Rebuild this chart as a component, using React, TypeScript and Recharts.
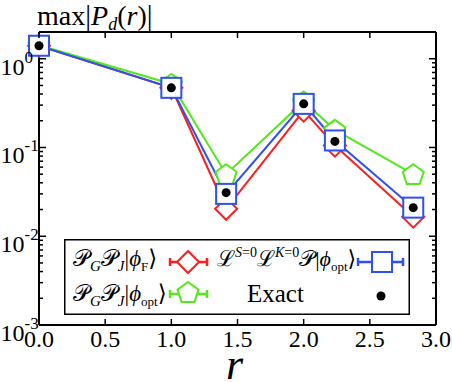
import { LineChart, Line, XAxis, YAxis } from 'recharts'

// distances r and max|P_d(r)|
const rValues = [0, 1, 1.414, 2, 2.236, 2.828]
const fermiValues = [1.4, 0.47, 0.0204, 0.26, 0.105, 0.0166]
const optValues = [1.42, 0.52, 0.05, 0.33, 0.158, 0.05]
const projValues = [1.4, 0.47, 0.03, 0.31, 0.12, 0.021]
const exactValues = [1.4, 0.47, 0.031, 0.31, 0.117, 0.021]

const xTicks = [0, 0.5, 1, 1.5, 2, 2.5, 3]
const xTickLabels = ['0.0', '0.5', '1.0', '1.5', '2.0', '2.5', '3.0']
const majorYTicks = [0.001, 0.01, 0.1, 1]
const minorMultipliers = [2, 3, 4, 5, 6, 7, 8, 9]

const RED = '#ff1e1e'
const GREEN = '#55e81a'
const BLUE = '#2f50f5'
const FONT = '"Liberation Serif", "DejaVu Serif", serif'

const yTicks = [
  ...majorYTicks,
  ...majorYTicks.flatMap(m => minorMultipliers.map(k => k * m)).filter(v => v <= 2),
].sort((a, b) => a - b)

const data = rValues.map((r, i) => ({
  r,
  fermi: fermiValues[i],
  opt: optValues[i],
  proj: projValues[i],
  exact: exactValues[i],
}))

const isMajor = (v: number) => majorYTicks.some(m => Math.abs(m - v) < m * 1e-6)

function Diamond({ cx, cy }: { cx: number; cy: number }) {
  const s = 11
  return (
    <polygon
      points={`${cx},${cy - s} ${cx + s},${cy} ${cx},${cy + s} ${cx - s},${cy}`}
      fill="#fff"
      stroke={RED}
      strokeWidth={2}
    />
  )
}

function Pentagon({ cx, cy }: { cx: number; cy: number }) {
  const s = 11
  const pts = [0, 1, 2, 3, 4]
    .map(k => {
      const a = ((-90 + 72 * k) * Math.PI) / 180
      return `${cx + s * Math.cos(a)},${cy + 1 + s * Math.sin(a)}`
    })
    .join(' ')
  return <polygon points={pts} fill="#fff" stroke={GREEN} strokeWidth={2} />
}

function Square({ cx, cy }: { cx: number; cy: number }) {
  return <rect x={cx - 10} y={cy - 10} width={20} height={20} fill="#fff" stroke={BLUE} strokeWidth={2} />
}

function Dot({ cx, cy }: { cx: number; cy: number }) {
  return <circle cx={cx} cy={cy} r={4.5} fill="#000" />
}

function ErrBar({ x1, x2, y, color }: { x1: number; x2: number; y: number; color: string }) {
  return (
    <g stroke={color} strokeWidth={2.5}>
      <line x1={x1} x2={x2} y1={y} y2={y} />
      <line x1={x1} x2={x1} y1={y - 4} y2={y + 4} />
      <line x1={x2} x2={x2} y1={y - 4} y2={y + 4} />
    </g>
  )
}

const LeftTick = ({ x, y, payload }: any) => {
  const v = payload.value
  const major = isMajor(v)
  const exp = Math.round(Math.log10(v))
  return (
    <g>
      <line x1={x} x2={x + (major ? 7 : 4)} y1={y} y2={y} stroke="#000" strokeWidth={1.5} />
      {major && (
        <text x={0.5} y={y + 16} fontSize={24} fontFamily={FONT} fill="#000">
          10
          <tspan dy={-12} fontSize={17}>
            {exp === 0 ? '0' : `-${-exp}`}
          </tspan>
        </text>
      )}
    </g>
  )
}

const RightTick = ({ x, y, payload }: any) => {
  const major = isMajor(payload.value)
  return <line x1={x} x2={x - (major ? 7 : 4)} y1={y} y2={y} stroke="#000" strokeWidth={1.5} />
}

const BottomTick = ({ x, y, payload, index }: any) => (
  <g>
    <line x1={x} x2={x} y1={y} y2={y - 6} stroke="#000" strokeWidth={1.5} />
    <text x={x} y={y + 22} textAnchor="middle" fontSize={24} fontFamily={FONT} fill="#000">
      {xTickLabels[index] ?? payload.value}
    </text>
  </g>
)

const TopTick = ({ x, y }: any) => <line x1={x} x2={x} y1={y} y2={y + 6} stroke="#000" strokeWidth={1.5} />

// legend drawn as its own box over the plot, like the reference
function ChartLegend() {
  const sub = 5
  return (
    <svg
      width={346}
      height={76}
      style={{ position: 'absolute', left: 64, top: 239, display: 'block', fontFamily: FONT }}
    >
      <rect x={0.75} y={0.75} width={344.5} height={74.5} fill="#fff" stroke="#000" strokeWidth={1.5} />
      <text x={9} y={27} fontSize={23} fill="#000">
        𝒫<tspan dy={sub} fontSize={15} fontStyle="italic">G</tspan>
        <tspan dy={-sub}>𝒫</tspan>
        <tspan dy={sub} fontSize={15} fontStyle="italic">J</tspan>
        <tspan dy={-sub}>|</tspan>
        <tspan fontStyle="italic">ϕ</tspan>
        <tspan dy={sub} fontSize={13}>F</tspan>
        <tspan dy={-sub}>⟩</tspan>
      </text>
      <ErrBar x1={106} x2={143} y={23} color={RED} />
      <Diamond cx={124} cy={23} />
      <text x={153} y={27} fontSize={22} fill="#000">
        ℒ<tspan dy={-9} fontSize={14} fontStyle="italic">S</tspan>
        <tspan fontSize={14}>=0</tspan>
        <tspan dy={9}>ℒ</tspan>
        <tspan dy={-9} fontSize={14} fontStyle="italic">K</tspan>
        <tspan fontSize={14}>=0</tspan>
        <tspan dy={9}>𝒫|</tspan>
        <tspan fontStyle="italic">ϕ</tspan>
        <tspan dy={sub} fontSize={13}>opt</tspan>
        <tspan dy={-sub}>⟩</tspan>
      </text>
      <ErrBar x1={294} x2={339} y={23} color={BLUE} />
      <Square cx={318} cy={23} />
      <text x={9} y={62} fontSize={23} fill="#000">
        𝒫<tspan dy={sub} fontSize={15} fontStyle="italic">G</tspan>
        <tspan dy={-sub}>𝒫</tspan>
        <tspan dy={sub} fontSize={15} fontStyle="italic">J</tspan>
        <tspan dy={-sub}>|</tspan>
        <tspan fontStyle="italic">ϕ</tspan>
        <tspan dy={sub} fontSize={13}>opt</tspan>
        <tspan dy={-sub}>⟩</tspan>
      </text>
      <ErrBar x1={106} x2={143} y={55} color={GREEN} />
      <Pentagon cx={124} cy={53} />
      <text x={183} y={63} fontSize={25} fill="#000">Exact</text>
      <Dot cx={317} cy={57} />
    </svg>
  )
}

export default function App() {
  return (
    <div style={{ position: 'absolute', left: 0, top: 0, width: 452, height: 382, background: '#fff', fontFamily: FONT }}>
      <LineChart width={452} height={382} data={data} margin={{ top: 31, right: 15, left: 0, bottom: 0 }}>
        <XAxis
          xAxisId="bottom"
          dataKey="r"
          type="number"
          domain={[0, 3]}
          ticks={xTicks}
          interval={0}
          height={57}
          tickSize={0}
          tickMargin={0}
          tickLine={false}
          tick={BottomTick}
          axisLine={{ stroke: '#000', strokeWidth: 2 }}
        />
        <XAxis
          xAxisId="top"
          orientation="top"
          dataKey="r"
          type="number"
          domain={[0, 3]}
          ticks={xTicks}
          interval={0}
          height={1}
          tickSize={0}
          tickMargin={0}
          tickLine={false}
          tick={TopTick}
          axisLine={{ stroke: '#000', strokeWidth: 2 }}
        />
        <YAxis
          yAxisId="left"
          scale="log"
          type="number"
          domain={[0.001, 2]}
          allowDataOverflow
          ticks={yTicks}
          interval={0}
          width={39}
          tickSize={0}
          tickMargin={0}
          tickLine={false}
          tick={LeftTick}
          axisLine={{ stroke: '#000', strokeWidth: 2 }}
        />
        <YAxis
          yAxisId="right"
          orientation="right"
          scale="log"
          type="number"
          domain={[0.001, 2]}
          allowDataOverflow
          ticks={yTicks}
          interval={0}
          width={1}
          tickSize={0}
          tickMargin={0}
          tickLine={false}
          tick={RightTick}
          axisLine={{ stroke: '#000', strokeWidth: 2 }}
        />
        <Line
          xAxisId="bottom"
          yAxisId="left"
          dataKey="fermi"
          stroke={RED}
          strokeWidth={2}
          isAnimationActive={false}
          dot={(p: any) => <Diamond key={`f${p.index}`} cx={p.cx} cy={p.cy} />}
        />
        <Line
          xAxisId="bottom"
          yAxisId="left"
          dataKey="opt"
          stroke={GREEN}
          strokeWidth={2}
          isAnimationActive={false}
          dot={(p: any) => <Pentagon key={`o${p.index}`} cx={p.cx} cy={p.cy} />}
        />
        <Line
          xAxisId="bottom"
          yAxisId="left"
          dataKey="proj"
          stroke={BLUE}
          strokeWidth={2}
          isAnimationActive={false}
          dot={(p: any) => <Square key={`p${p.index}`} cx={p.cx} cy={p.cy} />}
        />
        <Line
          xAxisId="bottom"
          yAxisId="left"
          dataKey="exact"
          stroke="none"
          isAnimationActive={false}
          dot={(p: any) => <Dot key={`e${p.index}`} cx={p.cx} cy={p.cy} />}
        />
      </LineChart>
      <ChartLegend />
      <div style={{ position: 'absolute', left: 37, top: 1, fontSize: 28, whiteSpace: 'nowrap', lineHeight: '28px', color: '#000' }}>
        max<span style={{ fontSize: 29 }}>|</span>
        <i>P</i>
        <i style={{ fontSize: 18, position: 'relative', top: 5 }}>d</i>(<i>r</i>)
        <span style={{ fontSize: 29 }}>|</span>
      </div>
      <div style={{ position: 'absolute', left: 226, top: 343, fontSize: 44, fontStyle: 'italic', lineHeight: '44px', color: '#000' }}>
        r
      </div>
    </div>
  )
}
